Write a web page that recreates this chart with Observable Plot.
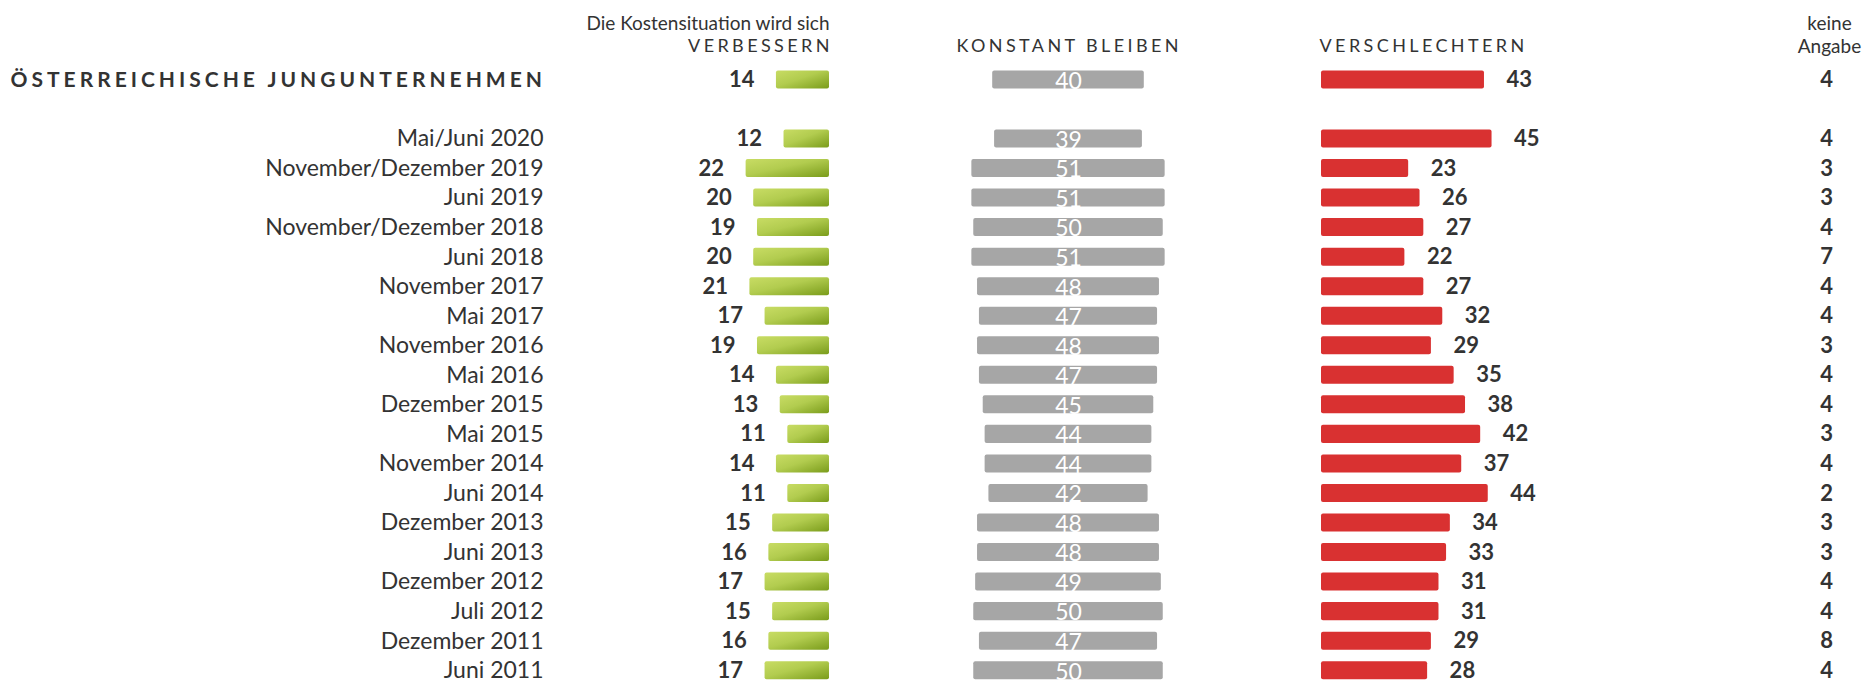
<!DOCTYPE html>
<html>
<head>
<meta charset="utf-8">
<script src="https://cdn.jsdelivr.net/npm/d3@7"></script>
<script src="https://cdn.jsdelivr.net/npm/@observablehq/plot@0.6"></script>
<style>
  html, body { margin: 0; padding: 0; background: #fff; }
  #chart svg { display: block; }
</style>
</head>
<body>
<div id="chart"></div>
<script>
// ---------- data ----------
const totalLabel = "ÖSTERREICHISCHE JUNGUNTERNEHMEN";
const periods = [
  "Mai/Juni 2020", "November/Dezember 2019", "Juni 2019", "November/Dezember 2018",
  "Juni 2018", "November 2017", "Mai 2017", "November 2016", "Mai 2016",
  "Dezember 2015", "Mai 2015", "November 2014", "Juni 2014", "Dezember 2013",
  "Juni 2013", "Dezember 2012", "Juli 2012", "Dezember 2011", "Juni 2011"
];
// first value = total (Österreichische Jungunternehmen), then one per period
const verbessern      = [14, 12, 22, 20, 19, 20, 21, 17, 19, 14, 13, 11, 14, 11, 15, 16, 17, 15, 16, 17];
const konstant        = [40, 39, 51, 51, 50, 51, 48, 47, 48, 47, 45, 44, 44, 42, 48, 48, 49, 50, 47, 50];
const verschlechtern  = [43, 45, 23, 26, 27, 22, 27, 32, 29, 35, 38, 42, 37, 44, 34, 33, 31, 31, 29, 28];
const keineAngabe     = [4, 4, 3, 3, 4, 7, 4, 4, 3, 4, 4, 3, 4, 2, 3, 3, 4, 4, 8, 4];

const headerIntro = "Die Kostensituation wird sich";
const headerBetter = "VERBESSERN";
const headerSame = "KONSTANT BLEIBEN";
const headerWorse = "VERSCHLECHTERN";
const headerNA1 = "keine";
const headerNA2 = "Angabe";

// ---------- layout ----------
const W = 1865, H = 681;
const PX_PER_UNIT = 3.79;               // bar length per percentage point
const U = px => px / PX_PER_UNIT;       // pixel position -> x units
const LABEL_X = U(543);
const TITLE_X = U(10);
const GREEN_END = U(829);
const GRAY_MID = U(1068);
const RED_START = U(1321);
const NA_X = U(1826);
const NA_HEAD_X = U(1829);
const CAPS_LS = 3.4;
const SPACER = " ";

const rowLabels = [totalLabel, ...periods];
const table = rowLabels.map((label, i) => ({
  label,
  v: verbessern[i],
  k: konstant[i],
  s: verschlechtern[i],
  n: keineAngabe[i],
  isTotal: i === 0
}));
const yDomain = [totalLabel, SPACER, ...periods];
const step = 29.54;
const firstCenter = 79.4;

const TEXT = "#333333";
const hdr = { frameAnchor: "top", lineAnchor: "middle", fill: TEXT };

const plot = Plot.plot({
  width: W,
  height: H,
  margin: 0,
  style: { fontFamily: "Lato, 'Open Sans', sans-serif", background: "#fff", overflow: "visible" },
  x: { domain: [0, W / PX_PER_UNIT], range: [0, W], axis: null },
  y: {
    type: "band",
    domain: yDomain,
    range: [firstCenter - step / 2, firstCenter - step / 2 + yDomain.length * step],
    paddingInner: 0.39,
    paddingOuter: 0.195,
    align: 0.5,
    round: false,
    axis: null
  },
  marks: [
    // bars
    Plot.barX(table, { y: "label", x1: d => GREEN_END - d.v, x2: () => GREEN_END, fill: "url(#greenGrad)", rx: 2 }),
    Plot.barX(table, { y: "label", x1: d => GRAY_MID - d.k / 2, x2: d => GRAY_MID + d.k / 2, fill: "#a6a6a6", rx: 2 }),
    Plot.barX(table, { y: "label", x1: () => RED_START, x2: d => RED_START + d.s, fill: "#d93131", rx: 2 }),
    // value labels
    Plot.text(table, { y: "label", x: d => GREEN_END - d.v, text: d => String(d.v), textAnchor: "end", dx: -22, fontSize: 22, fontWeight: 700, fill: TEXT }),
    Plot.text(table, { y: "label", x: () => GRAY_MID, text: d => String(d.k), textAnchor: "middle", dy: 1.5, fontSize: 23, fill: "#ffffff" }),
    Plot.text(table, { y: "label", x: d => RED_START + d.s, text: d => String(d.s), textAnchor: "start", dx: 22, fontSize: 22, fontWeight: 700, fill: TEXT }),
    Plot.text(table, { y: "label", x: () => NA_X, text: d => String(d.n), textAnchor: "middle", fontSize: 22, fontWeight: 700, fill: TEXT }),
    // row labels
    Plot.text(table.filter(d => !d.isTotal), { y: "label", x: () => LABEL_X, text: "label", textAnchor: "end", fontSize: 23, fill: TEXT }),
    Plot.text([totalLabel], { y: d => d, x: () => TITLE_X, text: d => d, textAnchor: "start", fontSize: 21, fontWeight: 700, fill: TEXT }),
    // headers
    Plot.text([headerIntro], { ...hdr, x: () => GREEN_END, text: d => d, dy: 23.5, textAnchor: "end", fontSize: 19 }),
    Plot.text([headerBetter], { ...hdr, x: () => GREEN_END, text: d => d, dy: 46, dx: CAPS_LS, textAnchor: "end", fontSize: 18 }),
    Plot.text([headerSame], { ...hdr, x: () => GRAY_MID, text: d => d, dy: 46, dx: CAPS_LS / 2 - 1, textAnchor: "middle", fontSize: 18 }),
    Plot.text([headerWorse], { ...hdr, x: () => RED_START, text: d => d, dy: 46, dx: -2, textAnchor: "start", fontSize: 18 }),
    Plot.text([headerNA1], { ...hdr, x: () => NA_HEAD_X, text: d => d, dy: 23.5, textAnchor: "middle", fontSize: 19 }),
    Plot.text([headerNA2], { ...hdr, x: () => NA_HEAD_X, text: d => d, dy: 46, textAnchor: "middle", fontSize: 19 })
  ]
});

// gradient for the "verbessern" bars
const svg = d3.select(plot);
const defs = svg.insert("defs", ":first-child");
const grad = defs.append("linearGradient").attr("id", "greenGrad")
  .attr("x1", "0").attr("y1", "0").attr("x2", "1").attr("y2", "1");
grad.append("stop").attr("offset", "0%").attr("stop-color", "#c8dc64");
grad.append("stop").attr("offset", "45%").attr("stop-color", "#b2cc4f");
grad.append("stop").attr("offset", "100%").attr("stop-color", "#7a9c1b");

// letter spacing for uppercase headings
svg.selectAll("text").each(function () {
  const t = this.textContent;
  if (t === totalLabel) d3.select(this).attr("letter-spacing", "4.0px");
  if (t === headerBetter || t === headerSame || t === headerWorse) d3.select(this).attr("letter-spacing", CAPS_LS + "px");
});

document.getElementById("chart").appendChild(plot);
</script>
</body>
</html>
